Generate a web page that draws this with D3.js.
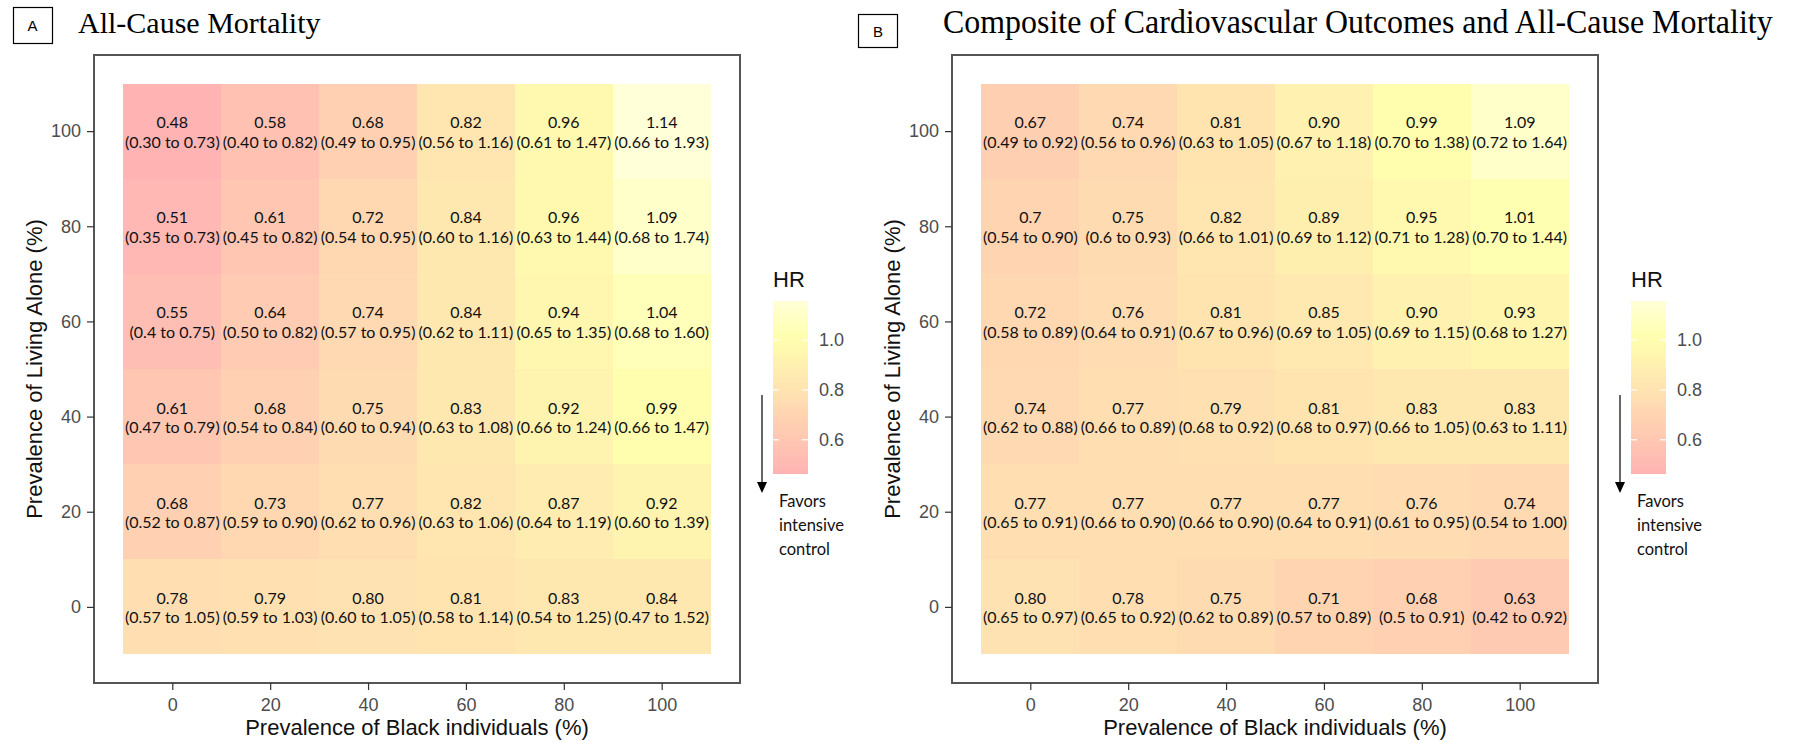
<!DOCTYPE html>
<html>
<head>
<meta charset="utf-8">
<script src="https://cdn.jsdelivr.net/npm/d3@7"></script>
<style>
body { margin: 0; background: #fff; }
</style>
</head>
<body>
<svg id="fig" width="1794" height="743"></svg>
<script>
var blackPrev = [0, 20, 40, 60, 80, 100];
var livingAlone = [100, 80, 60, 40, 20, 0];
var hrTicks = [0.6, 0.8, 1.0];
var hrLimits = [0.48, 1.14];

// rows follow livingAlone (100 at top), columns follow blackPrev
var hrA = [
  ['0.48', '0.58', '0.68', '0.82', '0.96', '1.14'],
  ['0.51', '0.61', '0.72', '0.84', '0.96', '1.09'],
  ['0.55', '0.64', '0.74', '0.84', '0.94', '1.04'],
  ['0.61', '0.68', '0.75', '0.83', '0.92', '0.99'],
  ['0.68', '0.73', '0.77', '0.82', '0.87', '0.92'],
  ['0.78', '0.79', '0.80', '0.81', '0.83', '0.84']
];
var ciA = [
  ['(0.30 to 0.73)', '(0.40 to 0.82)', '(0.49 to 0.95)', '(0.56 to 1.16)', '(0.61 to 1.47)', '(0.66 to 1.93)'],
  ['(0.35 to 0.73)', '(0.45 to 0.82)', '(0.54 to 0.95)', '(0.60 to 1.16)', '(0.63 to 1.44)', '(0.68 to 1.74)'],
  ['(0.4 to 0.75)', '(0.50 to 0.82)', '(0.57 to 0.95)', '(0.62 to 1.11)', '(0.65 to 1.35)', '(0.68 to 1.60)'],
  ['(0.47 to 0.79)', '(0.54 to 0.84)', '(0.60 to 0.94)', '(0.63 to 1.08)', '(0.66 to 1.24)', '(0.66 to 1.47)'],
  ['(0.52 to 0.87)', '(0.59 to 0.90)', '(0.62 to 0.96)', '(0.63 to 1.06)', '(0.64 to 1.19)', '(0.60 to 1.39)'],
  ['(0.57 to 1.05)', '(0.59 to 1.03)', '(0.60 to 1.05)', '(0.58 to 1.14)', '(0.54 to 1.25)', '(0.47 to 1.52)']
];
var hrB = [
  ['0.67', '0.74', '0.81', '0.90', '0.99', '1.09'],
  ['0.7', '0.75', '0.82', '0.89', '0.95', '1.01'],
  ['0.72', '0.76', '0.81', '0.85', '0.90', '0.93'],
  ['0.74', '0.77', '0.79', '0.81', '0.83', '0.83'],
  ['0.77', '0.77', '0.77', '0.77', '0.76', '0.74'],
  ['0.80', '0.78', '0.75', '0.71', '0.68', '0.63']
];
var ciB = [
  ['(0.49 to 0.92)', '(0.56 to 0.96)', '(0.63 to 1.05)', '(0.67 to 1.18)', '(0.70 to 1.38)', '(0.72 to 1.64)'],
  ['(0.54 to 0.90)', '(0.6 to 0.93)', '(0.66 to 1.01)', '(0.69 to 1.12)', '(0.71 to 1.28)', '(0.70 to 1.44)'],
  ['(0.58 to 0.89)', '(0.64 to 0.91)', '(0.67 to 0.96)', '(0.69 to 1.05)', '(0.69 to 1.15)', '(0.68 to 1.27)'],
  ['(0.62 to 0.88)', '(0.66 to 0.89)', '(0.68 to 0.92)', '(0.68 to 0.97)', '(0.66 to 1.05)', '(0.63 to 1.11)'],
  ['(0.65 to 0.91)', '(0.66 to 0.90)', '(0.66 to 0.90)', '(0.64 to 0.91)', '(0.61 to 0.95)', '(0.54 to 1.00)'],
  ['(0.65 to 0.97)', '(0.65 to 0.92)', '(0.62 to 0.89)', '(0.57 to 0.89)', '(0.5 to 0.91)', '(0.42 to 0.92)']
];

var svg = d3.select('#fig');
var sans = '"Liberation Sans", Arial, sans-serif';
var cellFont = 'Lato, "Open Sans", sans-serif';
var serif = '"Liberation Serif", "Times New Roman", serif';

var fillColor = d3.scaleLinear()
  .domain([hrLimits[0], 1.0, hrLimits[1]])
  .range(['#ffb3b3', '#ffffae', '#ffffd8'])
  .interpolate(d3.interpolateLab);

// shared colourbar gradient
var grad = svg.append('defs').append('linearGradient')
  .attr('id', 'hrGrad').attr('x1', 0).attr('y1', 1).attr('x2', 0).attr('y2', 0);
grad.selectAll('stop').data(d3.range(0, 1.0001, 0.05)).enter().append('stop')
  .attr('offset', function(t) { return t; })
  .attr('stop-color', function(t) { return fillColor(hrLimits[0] + t * (hrLimits[1] - hrLimits[0])); });

function drawPanel(offset, hr, ci) {
  var g, x, y, cells, tile, barTop, barLen, barLeft, barW, legendY, xAxis, yAxis;
  g = svg.append('g').attr('transform', 'translate(' + offset + ',0)');
  x = d3.scaleLinear().domain([-16, 116]).range([94, 740]);
  y = d3.scaleLinear().domain([-16, 116]).range([683, 55]);

  cells = [];
  livingAlone.forEach(function(yv, i) {
    blackPrev.forEach(function(xv, j) {
      cells.push({x: xv, y: yv, hr: hr[i][j], ci: ci[i][j]});
    });
  });

  tile = g.selectAll('g.tile').data(cells).enter().append('g').attr('class', 'tile');
  tile.append('rect')
    .attr('x', function(d) { return x(d.x - 10); })
    .attr('y', function(d) { return y(d.y + 10); })
    .attr('width', function(d) { return x(d.x + 10) - x(d.x - 10); })
    .attr('height', function(d) { return y(d.y - 10) - y(d.y + 10); })
    .attr('fill', function(d) { return fillColor(+d.hr); })
    .attr('shape-rendering', 'crispEdges');
  tile.append('text')
    .attr('x', function(d) { return x(d.x); })
    .attr('y', function(d) { return y(d.y) - 3; })
    .attr('text-anchor', 'middle').style('font-family', cellFont).style('font-size', '16px').attr('fill', '#111')
    .text(function(d) { return d.hr; });
  tile.append('text')
    .attr('x', function(d) { return x(d.x); })
    .attr('y', function(d) { return y(d.y) + 16.4; })
    .attr('text-anchor', 'middle').style('font-family', cellFont).style('font-size', '16px').attr('fill', '#111')
    .text(function(d) { return d.ci; });

  g.append('rect').attr('x', 94).attr('y', 55).attr('width', 646).attr('height', 628)
    .attr('fill', 'none').attr('stroke', '#555').attr('stroke-width', 2);

  xAxis = g.append('g').attr('transform', 'translate(0,683)')
    .call(d3.axisBottom(x).tickValues(blackPrev).tickSize(7).tickPadding(8).tickSizeOuter(0));
  yAxis = g.append('g').attr('transform', 'translate(94,0)')
    .call(d3.axisLeft(y).tickValues(livingAlone.slice().reverse()).tickSize(7).tickPadding(6).tickSizeOuter(0));
  [xAxis, yAxis].forEach(function(a) {
    a.select('.domain').remove();
    a.selectAll('line').attr('stroke', '#333').attr('stroke-width', 1.2);
    a.selectAll('text').attr('fill', '#4d4d4d').style('font-family', sans).style('font-size', '18px');
  });

  g.append('text').attr('x', 417).attr('y', 735).attr('text-anchor', 'middle')
    .style('font-family', sans).style('font-size', '22px').attr('fill', '#111')
    .text('Prevalence of Black individuals (%)');
  g.append('text').attr('transform', 'translate(42,369) rotate(-90)').attr('text-anchor', 'middle')
    .style('font-family', sans).style('font-size', '22px').attr('fill', '#111')
    .text('Prevalence of Living Alone (%)');

  // colourbar legend
  barLeft = 773; barW = 35; barTop = 301; barLen = 173;
  legendY = d3.scaleLinear().domain(hrLimits).range([barTop + barLen * 0.975, barTop + barLen * 0.025]);
  g.append('text').attr('x', barLeft).attr('y', 287)
    .style('font-family', sans).style('font-size', '22px').attr('fill', '#111').text('HR');
  g.append('rect').attr('x', barLeft).attr('y', barTop).attr('width', barW).attr('height', barLen)
    .attr('fill', 'url(#hrGrad)');
  hrTicks.forEach(function(v) {
    g.append('line').attr('x1', barLeft).attr('x2', barLeft + 6).attr('y1', legendY(v)).attr('y2', legendY(v))
      .attr('stroke', '#fff').attr('stroke-width', 1.2);
    g.append('line').attr('x1', barLeft + barW - 6).attr('x2', barLeft + barW).attr('y1', legendY(v)).attr('y2', legendY(v))
      .attr('stroke', '#fff').attr('stroke-width', 1.2);
  });
  g.selectAll('text.ltick').data(hrTicks).enter().append('text').attr('class', 'ltick')
    .attr('x', barLeft + barW + 11).attr('y', function(v) { return legendY(v); }).attr('dy', '0.35em')
    .style('font-family', sans).style('font-size', '18px').attr('fill', '#4d4d4d')
    .text(function(v) { return d3.format('.1f')(v); });

  g.append('line').attr('x1', 762).attr('x2', 762).attr('y1', 395).attr('y2', 483)
    .attr('stroke', '#000').attr('stroke-width', 1.2);
  g.append('path').attr('d', 'M757,482L767,482L762,493Z').attr('fill', '#000');
  g.selectAll('text.favor').data(['Favors', 'intensive', 'control']).enter().append('text').attr('class', 'favor')
    .attr('x', 779).attr('y', function(d, i) { return 507 + i * 24; })
    .style('font-family', cellFont).style('font-size', '16.5px').attr('fill', '#111')
    .text(function(d) { return d; });
}

drawPanel(0, hrA, ciA);
drawPanel(858, hrB, ciB);

// panel letters and titles
svg.append('rect').attr('x', 13.5).attr('y', 7.5).attr('width', 39).attr('height', 36)
  .attr('fill', 'none').attr('stroke', '#000').attr('stroke-width', 1.2);
svg.append('text').attr('x', 32.5).attr('y', 31).attr('text-anchor', 'middle')
  .style('font-family', sans).style('font-size', '15px').text('A');
svg.append('text').attr('x', 78).attr('y', 33)
  .style('font-family', serif).style('font-size', '30px').text('All-Cause Mortality');

svg.append('rect').attr('x', 858.5).attr('y', 14.5).attr('width', 39).attr('height', 33)
  .attr('fill', 'none').attr('stroke', '#000').attr('stroke-width', 1.2);
svg.append('text').attr('x', 878).attr('y', 36.5).attr('text-anchor', 'middle')
  .style('font-family', sans).style('font-size', '15px').text('B');

// title B is narrower than its font would set it, so squeeze it horizontally
var titleB = svg.append('text')
  .style('font-family', serif).style('font-size', '33px')
  .text('Composite of Cardiovascular Outcomes and All-Cause Mortality');
var titleW = titleB.node().getComputedTextLength();
titleB.attr('transform', 'translate(943,33) scale(' + (830 / titleW) + ',1)');
</script>
</body>
</html>
